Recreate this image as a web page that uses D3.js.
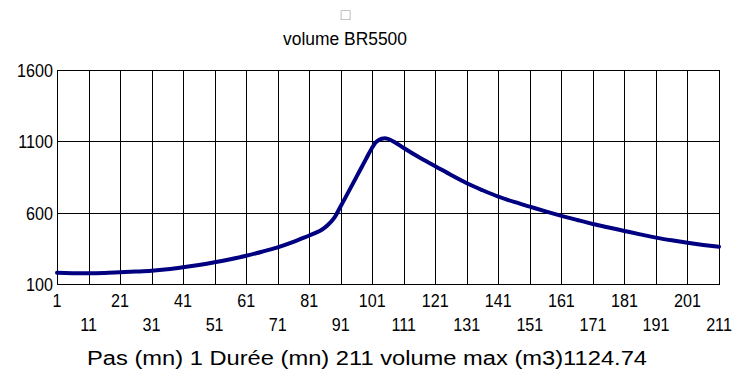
<!DOCTYPE html>
<html>
<head>
<meta charset="utf-8">
<script src="https://cdn.jsdelivr.net/npm/d3@7"></script>
<style>
  html, body { margin: 0; padding: 0; background: #fff; }
  svg { display: block; }
  text { font-family: 'Liberation Sans', Arial, sans-serif; fill: #000; }
</style>
</head>
<body>
<svg id="chart" width="736" height="374"></svg>
<script>
// ---- data ----
const titleText = "volume BR5500";
const xTitleText = "Pas (mn) 1 Durée (mn) 211 volume max (m3)1124.74";
const xTicks = [1, 11, 21, 31, 41, 51, 61, 71, 81, 91, 101, 111, 121, 131, 141, 151, 161, 171, 181, 191, 201, 211];
const yTicks = [100, 600, 1100, 1600];
const steps = [1, 6, 11, 16, 21, 26, 31, 36, 41, 46, 51, 56, 61, 66, 71, 76, 81, 83, 85, 87, 89, 91, 96, 99, 101, 102, 103, 104, 105, 106, 108, 111, 116, 121, 126, 131, 136, 141, 146, 151, 156, 161, 166, 171, 176, 181, 186, 191, 196, 201, 206, 211];
const volumes = [179, 176, 175, 177, 182, 187, 193, 203, 217, 233, 252, 274, 298, 326, 357, 395, 440, 458, 480, 515, 565, 645, 851, 975, 1057, 1090, 1108, 1118, 1121, 1117, 1096, 1053, 986, 926, 864, 806, 757, 712, 675, 642, 609, 578, 549, 521, 496, 472, 448, 425, 406, 389, 374, 361];

// ---- layout ----
const svg = d3.select("#chart");
const x = d3.scaleLinear().domain([1, 211]).range([57, 719]);
const y = d3.scaleLinear().domain([100, 1600]).range([284, 70]);
const squeeze = 0.85;

// grid
const grid = svg.append("g").attr("shape-rendering", "crispEdges");
grid.selectAll("line.v").data(xTicks).join("line")
  .attr("x1", d => Math.round(x(d)) + 0.5).attr("x2", d => Math.round(x(d)) + 0.5)
  .attr("y1", y(1600)).attr("y2", y(100))
  .attr("stroke", "#000").attr("stroke-width", 1);
grid.selectAll("line.h").data(yTicks).join("line")
  .attr("y1", d => Math.round(y(d)) + 0.5).attr("y2", d => Math.round(y(d)) + 0.5)
  .attr("x1", x(1)).attr("x2", x(211) + 1)
  .attr("stroke", "#000").attr("stroke-width", 1);

// y labels
svg.append("g").selectAll("text").data(yTicks).join("text")
  .attr("transform", d => `translate(53,${y(d)}) scale(${squeeze},1)`)
  .attr("dy", "0.36em")
  .attr("text-anchor", "end").attr("font-size", 19)
  .text(d => d);

// x labels (two staggered rows)
svg.append("g").selectAll("text").data(xTicks).join("text")
  .attr("transform", (d, i) => `translate(${x(d)},${i % 2 === 0 ? 307 : 331}) scale(${squeeze},1)`)
  .attr("text-anchor", "middle").attr("font-size", 19)
  .text(d => d);

// line
const line = d3.line().x((d, i) => x(steps[i])).y(d => y(d)).curve(d3.curveMonotoneX);
svg.append("path").datum(volumes)
  .attr("d", line)
  .attr("fill", "none").attr("stroke", "#000080").attr("stroke-width", 4)
  .attr("stroke-linejoin", "round").attr("stroke-linecap", "round");

// missing-glyph box above title
svg.append("text")
  .attr("x", 345.5).attr("y", 20).attr("text-anchor", "middle")
  .attr("font-size", 16).style("fill", "#999").text("\u25A1");

// title
svg.append("text")
  .attr("x", 345).attr("y", 45).attr("text-anchor", "middle")
  .attr("font-size", 18).attr("textLength", 124).attr("lengthAdjust", "spacingAndGlyphs")
  .text(titleText);

// x-axis title
svg.append("text")
  .attr("x", 367).attr("y", 365).attr("text-anchor", "middle")
  .attr("font-size", 20).attr("textLength", 560).attr("lengthAdjust", "spacingAndGlyphs")
  .text(xTitleText);
</script>
</body>
</html>
